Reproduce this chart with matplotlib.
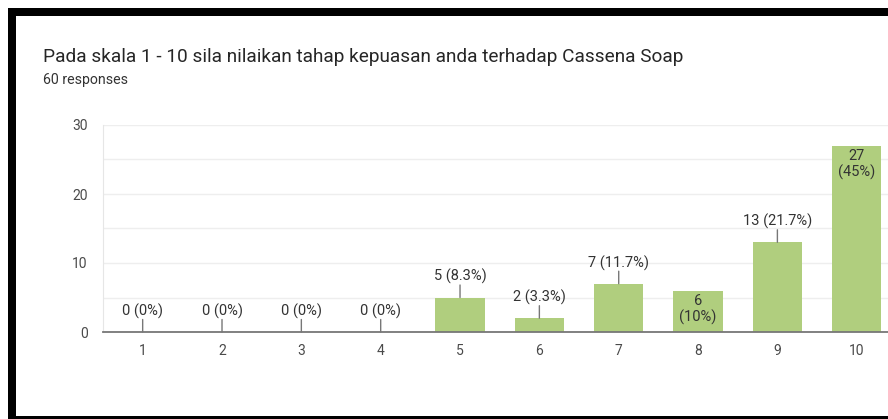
import matplotlib.pyplot as plt
from matplotlib.patches import Rectangle

plt.rcParams['font.family'] = ['Roboto', 'DejaVu Sans']

title = "Pada skala 1 - 10 sila nilaikan tahap kepuasan anda terhadap Cassena Soap"
subtitle = "60 responses"
categories = ['1', '2', '3', '4', '5', '6', '7', '8', '9', '10']
counts = [0, 0, 0, 0, 5, 2, 7, 6, 13, 27]
percents = ['0%', '0%', '0%', '0%', '8.3%', '3.3%', '11.7%', '10%', '21.7%', '45%']
inside = ['8', '10']   # labels Google put inside the bar

W, H = 888, 419
fig = plt.figure(figsize=(W / 100, H / 100), dpi=100)

# black screenshot frame: top, left, bottom strips (pixels from top-left)
for x0, y0, x1, y1 in [(8, 8, W, 16), (8, 8, 16, H), (8, 416, W, H)]:
    fig.patches.append(Rectangle((x0 / W, 1 - y1 / H), (x1 - x0) / W, (y1 - y0) / H,
                                 transform=fig.transFigure, facecolor='black',
                                 edgecolor='none', zorder=-1))

fig.text(43 / W, 1 - 57 / H, title, fontsize=13.7, color='#262626', va='center')
fig.text(43 / W, 1 - 80 / H, subtitle, fontsize=10.2, color='#333333', va='center')

ax = fig.add_axes([103 / W, (H - 332) / H, (W - 103) / W, (332 - 125) / H])
ax.set_facecolor('none')
x = list(range(1, len(categories) + 1))
ax.bar(x, counts, width=0.62, color='#b0ce7e', zorder=2)

# chart is cut off at the right edge of the screenshot
ax.set_xlim(0.5, 0.5 + (W - 103) / 79.34)
ax.set_ylim(0, 30)
ax.set_yticks([0, 10, 20, 30])
ax.set_yticks([5, 15, 25], minor=True)
ax.set_xticks(x)
ax.set_xticklabels(categories)
ax.tick_params(axis='both', which='both', length=0, labelsize=10, labelcolor='#4a4a4a')
ax.tick_params(axis='x', pad=8.5)
ax.tick_params(axis='y', pad=11)
ax.grid(axis='y', which='both', color='#eeeeee', lw=1, zorder=0)
for s in ['top', 'right']:
    ax.spines[s].set_visible(False)
ax.spines['left'].set_color('#e6e6e6')
ax.spines['bottom'].set_color('#777777')
ax.spines['bottom'].set_linewidth(1.3)
ax.spines['bottom'].set_zorder(3)

for xi, cat, c, p in zip(x, categories, counts, percents):
    if cat in inside:
        ax.annotate(f"{c}\n({p})", (xi, c), xytext=(0, -2.5), textcoords='offset points',
                    ha='center', va='top', fontsize=10.5, color='#333333',
                    linespacing=1.1, zorder=4)
    else:
        ax.annotate('', (xi, c), xytext=(0, 9), textcoords='offset points',
                    arrowprops=dict(arrowstyle='-', color='#777777', lw=1,
                                    shrinkA=0, shrinkB=0), zorder=4)
        ax.annotate(f"{c} ({p})", (xi, c), xytext=(0, 15), textcoords='offset points',
                    ha='center', va='center', fontsize=10.5, color='#333333', zorder=4)

fig.savefig('out.png', dpi=100)
